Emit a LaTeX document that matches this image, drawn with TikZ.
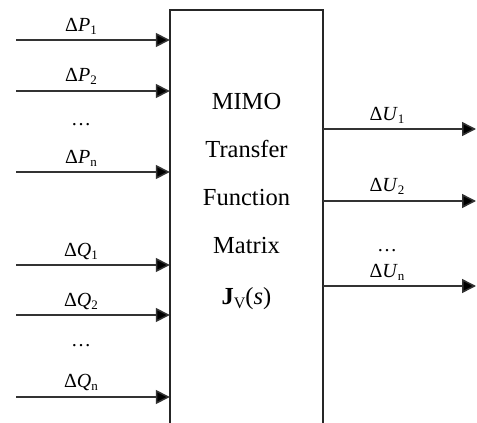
\documentclass[tikz,border=0pt]{standalone}
\usepackage{fontspec}
\setmainfont{Liberation Serif}
\usetikzlibrary{arrows.meta}
\newcommand\lsub[1]{\raisebox{-3pt}{\fontsize{13}{13}\selectfont #1}}
\begin{document}
\begin{tikzpicture}[x=1pt,y=-1pt,
  arr/.style={line width=1.5pt, draw=black!80, -{Triangle[length=14pt,width=14pt,fill=black]}},
  lbl/.style={anchor=base, inner sep=0pt, font=\fontsize{20}{24}\selectfont},
  boxtxt/.style={anchor=base, inner sep=0pt, font=\fontsize{24.5}{30}\selectfont}]
\useasboundingbox (0,0) rectangle (477,423);
\fill[white] (0,0) rectangle (477,423);
% box
\node[minimum width=153pt, minimum height=413pt, inner sep=0pt] (box) at (246.5,216.5) {};
\draw[line width=1.5pt, black!85] (box.south west) -- (box.north west) -- (box.north east) -- (box.south east);
\node[boxtxt] (t1) at (246.5,109) {MIMO};
\node[boxtxt] (t2) at (246.5,157) {Transfer};
\node[boxtxt] (t3) at (246.5,205) {Function};
\node[boxtxt] (t4) at (246.5,253) {Matrix};
\node[boxtxt] (t5) at (246.5,304) {{\bfseries J}\raisebox{-4pt}{\fontsize{16}{16}\selectfont V}(\textit{s})};
% inputs
\coordinate (p1) at (16,40);
\coordinate (p2) at (16,91);
\coordinate (pn) at (16,172);
\coordinate (q1) at (16,265);
\coordinate (q2) at (16,315);
\coordinate (qn) at (16,397);
\foreach \c in {p1,p2,pn,q1,q2,qn}{\draw[arr] (\c) -- (\c -| box.west);}
\node[lbl] (lp1) at (81,31) {Δ\textit{P}\lsub{1}};
\node[lbl] (lp2) at (81,81) {Δ\textit{P}\lsub{2}};
\node[lbl] (lpd) at (81,125) {…};
\node[lbl] (lpn) at (81,163) {Δ\textit{P}\lsub{n}};
\node[lbl] (lq1) at (81,256) {Δ\textit{Q}\lsub{1}};
\node[lbl] (lq2) at (81,306) {Δ\textit{Q}\lsub{2}};
\node[lbl] (lqd) at (81,346) {…};
\node[lbl] (lqn) at (81,387) {Δ\textit{Q}\lsub{n}};
% outputs
\coordinate (u1) at (476,129);
\coordinate (u2) at (476,201);
\coordinate (un) at (476,286);
\foreach \c in {u1,u2,un}{\draw[arr] (\c -| box.east) -- (\c);}
\node[lbl] (lu1) at (387,120) {Δ\textit{U}\lsub{1}};
\node[lbl] (lu2) at (387,191) {Δ\textit{U}\lsub{2}};
\node[lbl] (lud) at (387,251) {…};
\node[lbl] (lun) at (387,277) {Δ\textit{U}\lsub{n}};
\end{tikzpicture}
\end{document}
